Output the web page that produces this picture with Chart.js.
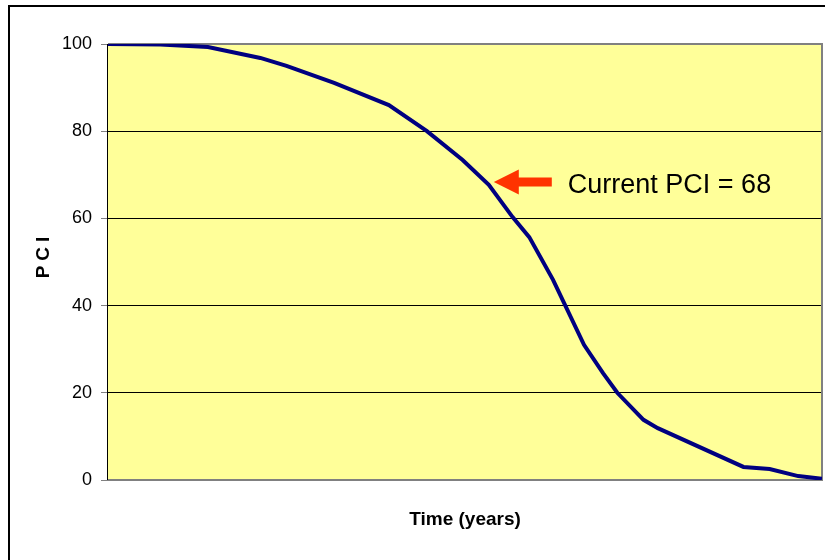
<!DOCTYPE html>
<html>
<head>
<meta charset="utf-8">
<script src="https://cdn.jsdelivr.net/npm/chart.js@4"></script>
<style>
  html, body { margin: 0; padding: 0; background: #fff; }
  #wrap { width: 825px; height: 560px; }
</style>
</head>
<body>
<div id="wrap"><canvas id="pciChart" width="825" height="560"></canvas></div>
<script>
// deterioration curve
const years = [0, 2.2, 4.2, 6.4, 7.5, 9.5, 11.8, 13.4, 14.9, 16.0, 17.0, 17.7, 18.7, 20.0, 20.8, 21.4, 22.5, 23.1, 26.7, 27.8, 29.0, 30];
const pci = [100, 99.9, 99.3, 96.8, 95.0, 91.1, 86.0, 80.0, 73.4, 67.7, 60.3, 55.7, 45.9, 31.0, 24.5, 20.0, 13.8, 11.9, 3.0, 2.5, 0.9, 0.3];
const yTicks = [0, 20, 40, 60, 80, 100];
const currentYear = 16.0;
const currentPci = 68;
const noteText = 'Current PCI = 68';

const FONT = "'Liberation Sans', Arial, sans-serif";

const chartDecor = {
  id: 'chartDecor',
  beforeDraw(chart) {
    const { ctx, chartArea: { left, top, right, bottom } } = chart;
    ctx.save();
    // outer frame
    ctx.strokeStyle = '#000';
    ctx.lineWidth = 2;
    ctx.strokeRect(9, 6, 840, 600);
    // plot background
    ctx.fillStyle = '#FFFF99';
    ctx.fillRect(left, top, right - left, bottom - top);
    ctx.restore();
  },
  beforeDatasetsDraw(chart) {
    const { ctx, chartArea: { left, top, right, bottom } } = chart;
    ctx.save();
    ctx.strokeStyle = '#808080';
    ctx.lineWidth = 2;
    ctx.beginPath();
    ctx.moveTo(left, top);
    ctx.lineTo(right, top);
    ctx.lineTo(right, bottom);
    ctx.lineTo(left, bottom);
    ctx.stroke();
    ctx.strokeStyle = '#000';
    ctx.lineWidth = 1;
    ctx.beginPath();
    ctx.moveTo(left - 0.5, top);
    ctx.lineTo(left - 0.5, bottom);
    ctx.stroke();
    ctx.restore();
  },
  afterDraw(chart) {
    const { ctx, chartArea: { left, top, right, bottom }, scales: { x, y } } = chart;
    ctx.save();

    // axis titles
    ctx.fillStyle = '#000';
    ctx.font = 'bold 19px ' + FONT;
    ctx.textAlign = 'center';
    ctx.textBaseline = 'alphabetic';
    ctx.fillText('Time (years)', (left + right) / 2, 525);

    ctx.save();
    ctx.translate(49, (top + bottom) / 2 - 5);
    ctx.rotate(-Math.PI / 2);
    ctx.letterSpacing = '5px';
    ctx.textBaseline = 'alphabetic';
    ctx.fillText('PCI', 2, 0);
    ctx.restore();

    // arrow to current condition
    const tipX = x.getPixelForValue(currentYear) + 5;
    const tipY = y.getPixelForValue(currentPci) - 1.5;
    ctx.fillStyle = '#FF3300';
    ctx.beginPath();
    ctx.moveTo(tipX, tipY);
    ctx.lineTo(tipX + 25, tipY - 12.5);
    ctx.lineTo(tipX + 25, tipY - 4.5);
    ctx.lineTo(tipX + 58, tipY - 4.5);
    ctx.lineTo(tipX + 58, tipY + 4.5);
    ctx.lineTo(tipX + 25, tipY + 4.5);
    ctx.lineTo(tipX + 25, tipY + 12.5);
    ctx.closePath();
    ctx.fill();

    ctx.fillStyle = '#000';
    ctx.font = '27px ' + FONT;
    ctx.textAlign = 'left';
    ctx.textBaseline = 'alphabetic';
    ctx.fillText(noteText, tipX + 74, tipY + 11);
    ctx.restore();
  }
};

const data = {
  datasets: [{
    label: 'PCI',
    data: years.map((t, i) => ({ x: t, y: pci[i] })),
    borderColor: '#000080',
    borderWidth: 4,
    pointRadius: 0,
    tension: 0,
    fill: false
  }]
};

const config = {
  type: 'line',
  data: data,
  options: {
    responsive: false,
    animation: false,
    layout: { padding: { top: 44, right: 3, bottom: 80, left: 0 } },
    plugins: {
      legend: { display: false },
      tooltip: { enabled: false }
    },
    scales: {
      x: {
        type: 'linear',
        min: 0,
        max: 30,
        display: false
      },
      y: {
        min: 0,
        max: 100,
        afterFit(scale) { scale.width = 108; },
        afterBuildTicks(scale) { scale.ticks = yTicks.map(v => ({ value: v })); },
        border: { display: false },
        grid: {
          color: (c) => (c.tick && (c.tick.value === 100 || c.tick.value === 0)) ? '#808080' : '#000',
          tickColor: '#808080',
          tickLength: 7,
          lineWidth: 1
        },
        ticks: {
          color: '#000',
          padding: 9,
          font: { family: FONT, size: 18 }
        }
      }
    }
  },
  plugins: [chartDecor]
};

const pciChart = new Chart(document.getElementById('pciChart').getContext('2d'), config);
</script>
</body>
</html>
